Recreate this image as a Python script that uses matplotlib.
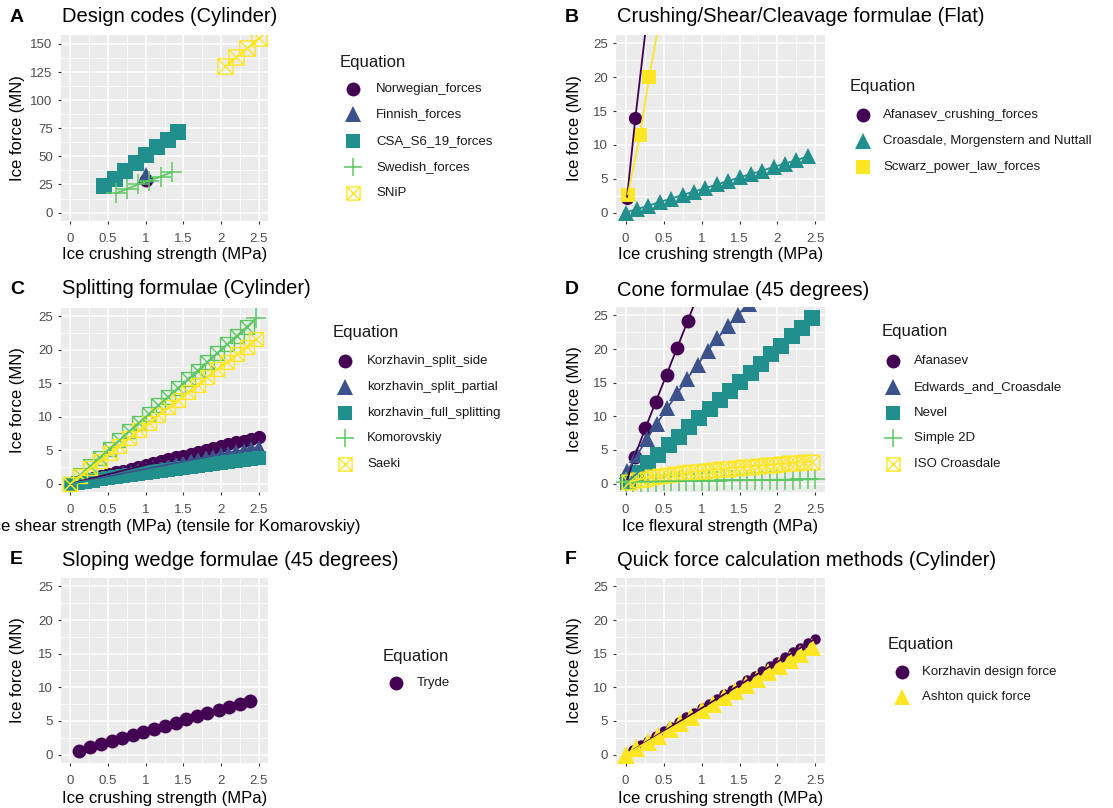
import matplotlib
matplotlib.use("Agg")
import matplotlib.pyplot as plt
from matplotlib.lines import Line2D
from matplotlib.path import Path
from matplotlib.ticker import MultipleLocator

plt.rcParams["font.family"] = ["Liberation Sans", "DejaVu Sans"]

W, H = 1113, 808

# ---------------- data ----------------
# A: design codes (cylinder)
norwegian_x = [1.0]
norwegian_y = [29.0]
finnish_x = [1.0]
finnish_y = [33.0]
csa_x = [0.45, 0.59, 0.73, 0.87, 1.01, 1.15, 1.29, 1.43]
csa_y = [24.0, 30.0, 37.0, 44.5, 51.5, 58.0, 65.0, 71.5]
swedish_x = [0.6, 0.75, 0.9, 1.05, 1.2, 1.35]
swedish_y = [17.0, 21.0, 25.0, 28.5, 32.0, 36.0]
snip_x = [2.05, 2.2, 2.35, 2.5]
snip_y = [130.0, 138.0, 146.5, 155.0]

# B: crushing / shear / cleavage (flat)
afanasev_crush_x = [0.02, 0.13, 0.27]
afanasev_crush_y = [2.2, 14.0, 27.5]
croasdale_mn_x = [0.0, 0.15, 0.3, 0.45, 0.6, 0.75, 0.9, 1.05, 1.2, 1.35,
                  1.5, 1.65, 1.8, 1.95, 2.1, 2.25, 2.4]
croasdale_mn_y = [0.0, 0.5, 1.0, 1.55, 2.05, 2.6, 3.1, 3.6, 4.15, 4.65,
                  5.2, 5.7, 6.2, 6.75, 7.25, 7.75, 8.3]
scwarz_x = [0.03, 0.19, 0.31, 0.45]
scwarz_y = [2.6, 11.4, 20.0, 28.5]

# C: splitting formulae (cylinder)
split_x = [0.0, 0.1, 0.2, 0.3, 0.4, 0.5, 0.6, 0.7, 0.8, 0.9, 1.0, 1.1, 1.2,
           1.3, 1.4, 1.5, 1.6, 1.7, 1.8, 1.9, 2.0, 2.1, 2.2, 2.3, 2.4, 2.5]
korz_side_y = [0.0, 0.28, 0.56, 0.84, 1.12, 1.4, 1.68, 1.96, 2.24, 2.52,
               2.8, 3.08, 3.36, 3.64, 3.92, 4.2, 4.48, 4.76, 5.04, 5.32,
               5.6, 5.88, 6.16, 6.44, 6.72, 7.0]
korz_partial_y = [0.0, 0.22, 0.44, 0.66, 0.88, 1.1, 1.32, 1.54, 1.76, 1.98,
                  2.2, 2.42, 2.64, 2.86, 3.08, 3.3, 3.52, 3.74, 3.96, 4.18,
                  4.4, 4.62, 4.84, 5.06, 5.28, 5.5]
korz_full_y = [0.0, 0.155, 0.31, 0.465, 0.62, 0.775, 0.93, 1.085, 1.24,
               1.395, 1.55, 1.705, 1.86, 2.015, 2.17, 2.325, 2.48, 2.635,
               2.79, 2.945, 3.1, 3.255, 3.41, 3.565, 3.72, 3.875]
komor_x = [0.0, 0.13, 0.26, 0.39, 0.52, 0.65, 0.78, 0.91, 1.04, 1.17, 1.3,
           1.43, 1.56, 1.69, 1.82, 1.95, 2.08, 2.21, 2.34, 2.47]
komor_y = [0.0, 1.3, 2.6, 3.9, 5.2, 6.5, 7.8, 9.1, 10.4, 11.7, 13.0, 14.3,
           15.6, 16.9, 18.2, 19.5, 20.8, 22.1, 23.4, 24.7]
saeki_x = [0.0, 0.13, 0.26, 0.39, 0.52, 0.65, 0.78, 0.91, 1.04, 1.17, 1.3,
           1.43, 1.56, 1.69, 1.82, 1.95, 2.08, 2.21, 2.34, 2.47]
saeki_y = [0.0, 1.14, 2.28, 3.41, 4.55, 5.69, 6.83, 7.96, 9.1, 10.24, 11.38,
           12.51, 13.65, 14.79, 15.93, 17.06, 18.2, 19.34, 20.48, 21.61]

# D: cone formulae (45 degrees)
afanasev_cone_x = [0.02, 0.12, 0.26, 0.40, 0.54, 0.68, 0.82, 0.96]
afanasev_cone_y = [0.5, 4.0, 8.2, 12.2, 16.2, 20.2, 24.2, 28.3]
edwards_x = [0.02, 0.15, 0.28, 0.41, 0.55, 0.68, 0.81, 0.95, 1.08, 1.21,
             1.35, 1.48, 1.62]
edwards_y = [1.8, 4.2, 6.6, 8.9, 11.2, 13.4, 15.6, 17.7, 19.7, 21.6, 23.4,
             25.1, 26.7]
nevel_x = [0.03, 0.16, 0.30, 0.43, 0.57, 0.70, 0.84, 0.97, 1.11, 1.24, 1.38,
           1.51, 1.65, 1.78, 1.92, 2.05, 2.19, 2.32, 2.45]
nevel_y = [0.3, 1.6, 3.0, 4.3, 5.7, 7.0, 8.4, 9.7, 11.1, 12.4, 13.8, 15.1,
           16.5, 17.8, 19.2, 20.5, 21.9, 23.2, 24.6]
simple2d_x = [0.0, 0.1, 0.2, 0.3, 0.4, 0.5, 0.6, 0.7, 0.8, 0.9, 1.0, 1.1, 1.2,
              1.3, 1.4, 1.5, 1.6, 1.7, 1.8, 1.9, 2.0, 2.1, 2.2, 2.3, 2.4, 2.5]
simple2d_y = [0.25, 0.27, 0.28, 0.3, 0.31, 0.33, 0.35, 0.36, 0.38, 0.39, 0.41,
              0.43, 0.44, 0.46, 0.47, 0.49, 0.51, 0.52, 0.54, 0.55, 0.57,
              0.59, 0.6, 0.62, 0.63, 0.65]
iso_x = [0.05, 0.15, 0.25, 0.35, 0.45, 0.55, 0.65, 0.75, 0.85, 0.95, 1.05,
         1.15, 1.25, 1.35, 1.45, 1.55, 1.65, 1.75, 1.85, 1.95, 2.05, 2.15,
         2.25, 2.35, 2.45]
iso_y = [0.26, 0.54, 0.75, 0.93, 1.10, 1.25, 1.39, 1.52, 1.66, 1.78, 1.90,
         2.02, 2.12, 2.24, 2.34, 2.45, 2.54, 2.64, 2.74, 2.83, 2.92, 3.01,
         3.10, 3.19, 3.28]

# E: sloping wedge (45 degrees)
tryde_x = [0.12, 0.26, 0.40, 0.55, 0.69, 0.83, 0.97, 1.11, 1.26, 1.40, 1.54,
           1.68, 1.82, 1.97, 2.11, 2.25, 2.39]
tryde_y = [0.6, 1.06, 1.51, 2.0, 2.46, 2.92, 3.37, 3.83, 4.32, 4.77, 5.23,
           5.69, 6.14, 6.63, 7.09, 7.54, 8.0]

# F: quick force calculation methods (cylinder)
korz_design_x = [0.1, 0.2, 0.3, 0.4, 0.5, 0.6, 0.7, 0.8, 0.9, 1.0, 1.1, 1.2,
                 1.3, 1.4, 1.5, 1.6, 1.7, 1.8, 1.9, 2.0, 2.1, 2.2, 2.3, 2.4,
                 2.5]
korz_design_y = [0.69, 1.38, 2.07, 2.76, 3.45, 4.14, 4.83, 5.52, 6.21, 6.9,
                 7.59, 8.28, 8.97, 9.66, 10.35, 11.04, 11.73, 12.42, 13.11,
                 13.8, 14.49, 15.18, 15.87, 16.56, 17.25]
ashton_x = [0.0, 0.14, 0.29, 0.43, 0.58, 0.72, 0.86, 1.01, 1.15, 1.30, 1.44,
            1.58, 1.73, 1.87, 2.02, 2.16, 2.30, 2.45]
ashton_y = [0.0, 0.91, 1.89, 2.81, 3.79, 4.70, 5.62, 6.60, 7.51, 8.49, 9.40,
            10.32, 11.30, 12.21, 13.19, 14.10, 15.02, 16.0]

# ---------------- styling ----------------
V5 = ["#440154", "#3B528B", "#21908C", "#5DC863", "#FDE725"]
V3 = ["#440154", "#21908C", "#FDE725"]
V2 = ["#440154", "#FDE725"]

SQX = Path([(-1, -1), (1, -1), (1, 1), (-1, 1), (-1, -1),
            (-1, -1), (1, 1), (-1, 1), (1, -1)],
           [Path.MOVETO, Path.LINETO, Path.LINETO, Path.LINETO, Path.CLOSEPOLY,
            Path.MOVETO, Path.LINETO, Path.MOVETO, Path.LINETO])


def fx(x):
    return x / W


def fy(y):
    return 1 - y / H


def marker_kw(shape, color, size):
    if shape == "sqx":
        return dict(marker=SQX, markersize=size, markerfacecolor="none",
                    markeredgecolor=color, markeredgewidth=1.0)
    if shape == "+":
        return dict(marker="+", markersize=size, markeredgecolor=color,
                    markeredgewidth=1.1)
    return dict(marker=shape, markersize=size, markerfacecolor=color,
                markeredgecolor=color, markeredgewidth=0)


fig = plt.figure(figsize=(W / 100, H / 100), dpi=100)
fig.patch.set_facecolor("white")


def make_axes(box, xlim, ylim, ymajor):
    x0, y0, x1, y1 = box
    ax = fig.add_axes([fx(x0), fy(y1), (x1 - x0) / W, (y1 - y0) / H])
    ax.set_facecolor("#EBEBEB")
    for s in ax.spines.values():
        s.set_visible(False)
    ax.set_xlim(*xlim)
    ax.set_ylim(*ylim)
    ax.xaxis.set_major_locator(MultipleLocator(0.5))
    ax.xaxis.set_minor_locator(MultipleLocator(0.25))
    ax.yaxis.set_major_locator(MultipleLocator(ymajor))
    ax.yaxis.set_minor_locator(MultipleLocator(ymajor / 2))
    ax.grid(which="major", color="white", linewidth=1.1)
    ax.grid(which="minor", color="white", linewidth=0.55)
    ax.set_axisbelow(True)
    ax.tick_params(which="major", length=2.5, width=0.8, color="#333333",
                   labelsize=9.5, labelcolor="#4D4D4D", pad=3.5)
    ax.tick_params(axis="x", which="major", pad=6)
    ax.tick_params(which="minor", length=0)
    ax.xaxis.set_major_formatter(plt.FuncFormatter(lambda v, p: f"{v:g}"))
    ax.yaxis.set_major_formatter(plt.FuncFormatter(lambda v, p: f"{v:g}"))
    return ax


def draw_series(ax, series):
    # points first, then lines on top
    for xs, ys, color, shape, size in series:
        ax.plot(xs, ys, linestyle="none", zorder=3,
                **marker_kw(shape, color, size))
    for xs, ys, color, shape, size in series:
        if len(xs) > 1:
            ax.plot(xs, ys, color=color, linewidth=1.3, zorder=4,
                    solid_capstyle="butt")


def panel_text(letter, title, lx, ty):
    fig.text(fx(lx), fy(ty), letter, fontsize=14, fontweight="bold",
             va="center", ha="left")
    fig.text(fx(lx + 52), fy(ty), title, fontsize=14.5, va="center",
             ha="left")


def axis_labels(box, xlabel, xly, yx, xshift=0):
    x0, y0, x1, y1 = box
    fig.text(fx((x0 + x1) / 2 + xshift), fy(xly), xlabel, fontsize=12,
             ha="center", va="center")
    fig.text(fx(yx), fy((y0 + y1) / 2), "Ice force (MN)", fontsize=12,
             ha="center", va="center", rotation=90)


def legend(tx, ty, mx, lxp, ys, entries):
    fig.text(fx(tx), fy(ty), "Equation", fontsize=12, ha="left",
             va="center", color="#1A1A1A")
    for (name, color, shape, size), yy in zip(entries, ys):
        fig.add_artist(Line2D([fx(mx)], [fy(yy)], transform=fig.transFigure,
                              linestyle="none",
                              **marker_kw(shape, color, size)))
        fig.text(fx(lxp), fy(yy), name, fontsize=9.5, ha="left",
                 va="center", color="#1A1A1A")


X_LIM = (-0.125, 2.625)
Y_LIM = (-1.25, 26.25)

# ---- A ----
boxA = (61, 35, 268, 221)
axA = make_axes(boxA, X_LIM, (-7.5, 158), 25)
draw_series(axA, [
    (norwegian_x, norwegian_y, V5[0], "o", 10),
    (finnish_x, finnish_y, V5[1], "^", 11),
    (csa_x, csa_y, V5[2], "s", 11),
    (swedish_x, swedish_y, V5[3], "+", 14),
    (snip_x, snip_y, V5[4], "sqx", 11),
])
panel_text("A", "Design codes (Cylinder)", 10, 17)
axis_labels(boxA, "Ice crushing strength (MPa)", 254, 18)
legend(340, 62, 353, 376, [89, 114, 141, 167, 193], [
    ("Norwegian_forces", V5[0], "o", 10),
    ("Finnish_forces", V5[1], "^", 12),
    ("CSA_S6_19_forces", V5[2], "s", 9.5),
    ("Swedish_forces", V5[3], "+", 13),
    ("SNiP", V5[4], "sqx", 9.5),
])

# ---- B ----
boxB = (616, 35, 825, 221)
axB = make_axes(boxB, X_LIM, Y_LIM, 5)
draw_series(axB, [
    (afanasev_crush_x, afanasev_crush_y, V3[0], "o", 9.5),
    (croasdale_mn_x, croasdale_mn_y, V3[1], "^", 11.5),
    (scwarz_x, scwarz_y, V3[2], "s", 10),
])
panel_text("B", "Crushing/Shear/Cleavage formulae (Flat)", 565, 17)
axis_labels(boxB, "Ice crushing strength (MPa)", 254, 575)
legend(850, 87, 863, 883, [115, 141, 167], [
    ("Afanasev_crushing_forces", V3[0], "o", 10),
    ("Croasdale, Morgenstern and Nuttall", V3[1], "^", 12),
    ("Scwarz_power_law_forces", V3[2], "s", 9.5),
])

# ---- C ----
boxC = (61, 308, 268, 492)
axC = make_axes(boxC, X_LIM, Y_LIM, 5)
draw_series(axC, [
    (split_x, korz_side_y, V5[0], "o", 9.5),
    (split_x, korz_partial_y, V5[1], "^", 10.5),
    (split_x, korz_full_y, V5[2], "s", 10.5),
])
# Komorovskiy: boxed markers along the curve, cross at the final point
axC.plot(komor_x[:-1], komor_y[:-1], linestyle="none", zorder=3,
         **marker_kw("sqx", V5[3], 10))
axC.plot(komor_x[-1:], komor_y[-1:], linestyle="none", zorder=3,
         **marker_kw("+", V5[3], 14))
axC.plot(saeki_x, saeki_y, linestyle="none", zorder=3,
         **marker_kw("sqx", V5[4], 10))
axC.plot(komor_x, komor_y, color=V5[3], linewidth=1.3, zorder=4)
axC.plot(saeki_x, saeki_y, color=V5[4], linewidth=1.3, zorder=4)
panel_text("C", "Splitting formulae (Cylinder)", 10, 289)
axis_labels(boxC, "Ice shear strength (MPa) (tensile for Komarovskiy)",
            526, 18, xshift=10)
legend(333, 333, 345, 367, [361, 387, 413, 438, 464], [
    ("Korzhavin_split_side", V5[0], "o", 10),
    ("korzhavin_split_partial", V5[1], "^", 12),
    ("korzhavin_full_splitting", V5[2], "s", 9.5),
    ("Komorovskiy", V5[3], "+", 13),
    ("Saeki", V5[4], "sqx", 9.5),
])

# ---- D ----
boxD = (616, 307, 825, 492)
axD = make_axes(boxD, X_LIM, Y_LIM, 5)
draw_series(axD, [
    (afanasev_cone_x, afanasev_cone_y, V5[0], "o", 10),
    (edwards_x, edwards_y, V5[1], "^", 12),
    (nevel_x, nevel_y, V5[2], "s", 11),
    (simple2d_x, simple2d_y, V5[3], "+", 14),
    (iso_x, iso_y, V5[4], "sqx", 10.5),
])
panel_text("D", "Cone formulae (45 degrees)", 565, 290)
axis_labels(boxD, "Ice flexural strength (MPa)", 526, 575)
legend(882, 332, 893, 914, [361, 387, 413, 438, 464], [
    ("Afanasev", V5[0], "o", 10),
    ("Edwards_and_Croasdale", V5[1], "^", 12),
    ("Nevel", V5[2], "s", 9.5),
    ("Simple 2D", V5[3], "+", 13),
    ("ISO Croasdale", V5[4], "sqx", 9.5),
])

# ---- E ----
boxE = (61, 578, 268, 763)
axE = make_axes(boxE, X_LIM, Y_LIM, 5)
draw_series(axE, [
    (tryde_x, tryde_y, "#440154", "o", 10),
])
panel_text("E", "Sloping wedge formulae (45 degrees)", 10, 560)
axis_labels(boxE, "Ice crushing strength (MPa)", 798, 18)
legend(383, 657, 396, 417, [683], [
    ("Tryde", "#440154", "o", 10),
])

# ---- F ----
boxF = (616, 578, 825, 763)
axF = make_axes(boxF, X_LIM, Y_LIM, 5)
draw_series(axF, [
    (korz_design_x, korz_design_y, V2[0], "o", 7.5),
    (ashton_x, ashton_y, V2[1], "^", 13),
])
panel_text("F", "Quick force calculation methods (Cylinder)", 565, 560)
axis_labels(boxF, "Ice crushing strength (MPa)", 799, 575)
legend(888, 644, 902, 922, [672, 697], [
    ("Korzhavin design force", V2[0], "o", 10),
    ("Ashton quick force", V2[1], "^", 12),
])

fig.savefig("out.png", dpi=100)
